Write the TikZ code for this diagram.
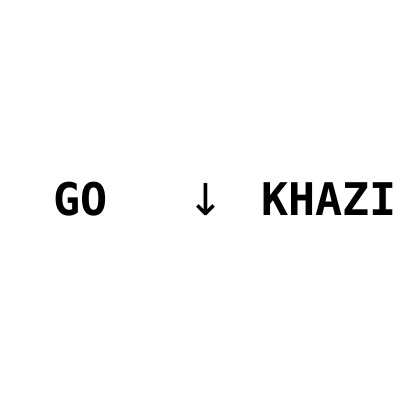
\documentclass[tikz,border=0pt]{standalone}
\usepackage{fontspec}
\newfontfamily\monofont{DejaVu Sans Mono}
\newfontfamily\symfont{DejaVu Sans}
\tikzset{
  word/.style={font=\monofont\bfseries\fontsize{45}{48}\selectfont, inner sep=0pt, anchor=base west},
  pointer/.style={font=\symfont\fontsize{44}{48}\selectfont, inner sep=0pt, anchor=base}
}

\begin{document}
\begin{tikzpicture}
  \useasboundingbox[fill=white] (0pt,0pt) rectangle (400pt,-400pt);
  \node[word] (go) at (53.5pt,-215pt) {GO};
  \node[pointer] (down) at (206pt,-215pt) {↓};
  \node[word] (khazi) at (261pt,-215pt) {KHAZI};
\end{tikzpicture}
\end{document}
